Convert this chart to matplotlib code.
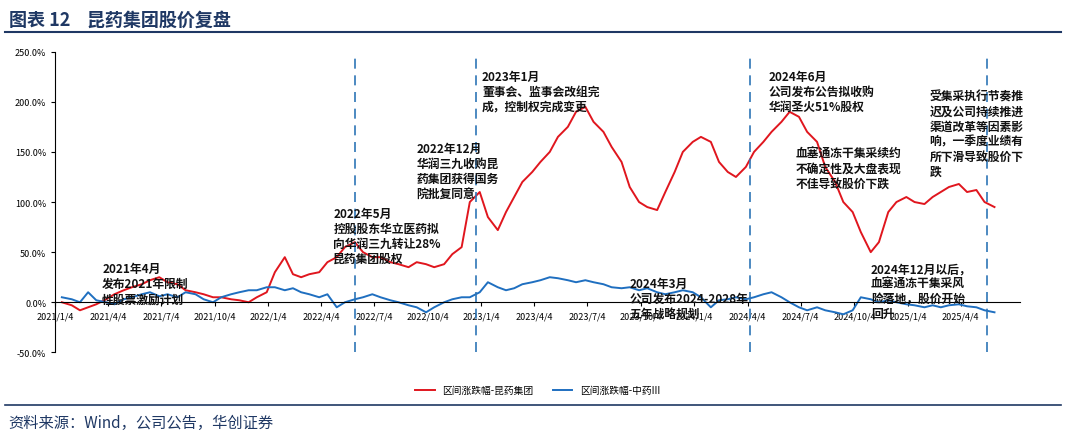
import pandas as pd
import matplotlib.pyplot as plt
from matplotlib.ticker import FuncFormatter

plt.rcParams['font.family'] = ['Noto Sans CJK SC', 'DejaVu Sans']

# semi-monthly readings from 2021-01 to 2025-06
dates = pd.date_range("2021-01-04", "2025-06-20", freq="SMS")
kunyao = [0, -3, -8, -5, -2, 3, 8, 12, 15, 18, 22, 25, 20, 18, 12, 10, 8, 5, 5, 3, 2, 0, 5, 10,
          30, 45, 28, 25, 28, 30, 40, 45, 55, 60, 50, 45, 45, 40, 38, 35, 40, 38, 35, 38, 48, 55, 100, 110,
          85, 72, 90, 105, 120, 130, 140, 150, 165, 175, 190, 195, 180, 170, 155, 140, 115, 100, 95, 92, 110, 130, 150, 160,
          165, 160, 140, 130, 125, 135, 150, 160, 170, 180, 190, 185, 170, 160, 135, 120, 100, 90, 70, 50, 60, 90, 100, 105,
          100, 98, 105, 110, 115, 118, 110, 112, 100, 95, 85, 78]
zhongyao = [5, 3, 0, 10, 2, 0, -2, 3, 5, 8, 10, 6, 8, 5, 10, 8, 3, 0, 5, 8, 10, 12, 12, 15,
            15, 12, 14, 10, 8, 5, 8, -5, 0, 3, 5, 8, 5, 2, 0, -3, -5, -10, -5, 0, 3, 5, 5, 10,
            20, 15, 12, 14, 18, 20, 22, 25, 24, 22, 20, 22, 20, 18, 15, 14, 15, 12, 14, 10, 8, 10, 12, 10,
            5, -5, 2, 3, 5, 3, 5, 8, 10, 5, 0, -5, -8, -5, -8, -10, -12, -8, 5, 3,
            0, 2, 0, -2, -3, -5, -3, -5, -3, -2, -4, -5, -8, -10]
n = min(len(dates), len(kunyao), len(zhongyao))
dates, kunyao, zhongyao = dates[:n], kunyao[:n], zhongyao[:n]

event_dates = pd.to_datetime(["2022-06-01", "2022-12-25", "2024-04-08", "2025-05-20"])
tick_dates = pd.date_range("2021-01-01", "2025-04-04", freq="3MS") + pd.Timedelta(days=3)
tick_labels = [f"{d.year}/{d.month}/4" for d in tick_dates]

notes = [
    ("2021-03-25", 40, "2021年4月\n发布2021年限制\n性股票激励计划"),
    ("2022-04-25", 95, "2022年5月\n控股股东华立医药拟\n向华润三九转让28%\n昆药集团股权"),
    ("2022-09-15", 160, "2022年12月\n华润三九收购昆\n药集团获得国务\n院批复同意"),
    ("2023-01-05", 232, "2023年1月\n董事会、监事会改组完\n成，控制权完成变更"),
    ("2023-09-15", 25, "2024年3月\n公司发布2024-2028年\n五年战略规划"),
    ("2024-05-10", 232, "2024年6月\n公司发布公告拟收购\n华润圣火51%股权"),
    ("2024-06-25", 155, "血塞通冻干集采续约\n不确定性及大盘表现\n不佳导致股价下跌"),
    ("2024-11-01", 40, "2024年12月以后，\n血塞通冻干集采风\n险落地，股价开始\n回升"),
    ("2025-02-10", 212, "受集采执行节奏推\n迟及公司持续推进\n渠道改革等因素影\n响，一季度业绩有\n所下滑导致股价下\n跌"),
]

fig = plt.figure(figsize=(10.66, 4.39), dpi=100)
fig.text(0.008, 0.955, "图表 12    昆药集团股价复盘", fontsize=13, fontweight="bold",
         color="#1f3864", va="center")
fig.add_artist(plt.Line2D([0.005, 0.995], [0.925, 0.925], color="#1f3864", lw=1.5))
fig.add_artist(plt.Line2D([0.005, 0.995], [0.075, 0.075], color="#1f3864", lw=1.2))
fig.text(0.008, 0.035, "资料来源：Wind，公司公告，华创证券", fontsize=11, style="italic",
         color="#1f3864", va="center")

ax = fig.add_axes([0.052, 0.195, 0.905, 0.685])
ax.plot(dates, kunyao, color="#e0161e", lw=1.4, label="区间涨跌幅-昆药集团")
ax.plot(dates, zhongyao, color="#1f6fc0", lw=1.4, label="区间涨跌幅-中药III")
for d in event_dates:
    ax.axvline(d, color="#2e75b6", ls=(0, (6, 4)), lw=1.2)
for d, y, t in notes:
    ax.text(pd.Timestamp(d), y, t, fontsize=8.5, fontweight="bold", va="top", ha="left",
            linespacing=1.2, color="#111111")

ax.set_ylim(-50, 250)
ax.set_yticks(range(-50, 251, 50))
ax.yaxis.set_major_formatter(FuncFormatter(lambda v, p: f"{v:.1f}%"))
ax.set_xlim(pd.Timestamp("2021-01-04"), pd.Timestamp("2025-07-15"))
ax.set_xticks(tick_dates)
ax.set_xticklabels(tick_labels)
ax.spines["bottom"].set_position(("data", 0))
for s in ["top", "right"]:
    ax.spines[s].set_visible(False)
ax.tick_params(labelsize=6.5, length=3)
ax.legend(loc="upper center", bbox_to_anchor=(0.5, -0.08), ncol=2, frameon=False, fontsize=7)

fig.savefig("out.png", dpi=100)
